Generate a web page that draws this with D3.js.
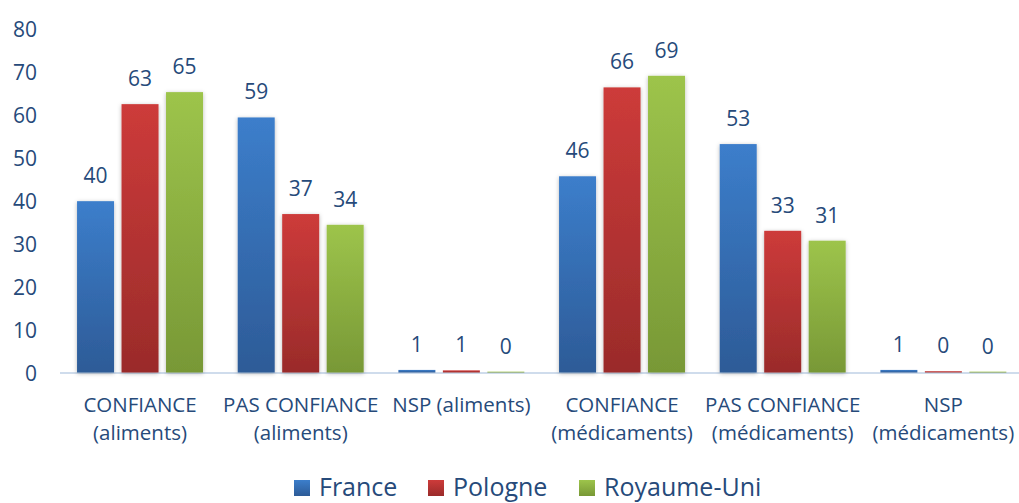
<!DOCTYPE html>
<html><head><meta charset="utf-8">
<script src="https://cdn.jsdelivr.net/npm/d3@7"></script>
<style>
html,body{margin:0;padding:0;background:#fff;}
svg{display:block;}
text{font-family:"Open Sans",sans-serif;fill:#264a7a;}
</style></head><body>
<svg id="chart" width="1019" height="503"></svg>
<script>
const categories = [["CONFIANCE","(aliments)"],["PAS CONFIANCE","(aliments)"],["NSP (aliments)"],["CONFIANCE","(médicaments)"],["PAS CONFIANCE","(médicaments)"],["NSP","(médicaments)"]];
const seriesNames = ["France","Pologne","Royaume-Uni"];
const france = [39.9, 59.4, 0.6, 45.7, 53.2, 0.6];
const pologne = [62.5, 36.9, 0.5, 66.4, 33.0, 0.3];
const royaumeUni = [65.3, 34.4, 0.2, 69.1, 30.7, 0.2];
const yTicks = [0,10,20,30,40,50,60,70,80];
const colorsTop = ["#3c7ecb","#cd3b3a","#9dc44b"];
const colorsBottom = ["#2d5b97","#9a2b2a","#789836"];

const series = [france, pologne, royaumeUni];
const svg = d3.select("#chart");
const defs = svg.append("defs");
colorsTop.forEach((c,i)=>{
  const g = defs.append("linearGradient").attr("id","g"+i).attr("x1",0).attr("y1",0).attr("x2",0).attr("y2",1);
  g.append("stop").attr("offset","0%").attr("stop-color",c);
  g.append("stop").attr("offset","100%").attr("stop-color",colorsBottom[i]);
});
const f = defs.append("filter").attr("id","sh").attr("x","-30%").attr("y","-10%").attr("width","160%").attr("height","120%");
f.append("feDropShadow").attr("dx",0).attr("dy",1).attr("stdDeviation",2.2).attr("flood-color","#000").attr("flood-opacity",0.28);

const y = d3.scaleLinear().domain([0,80]).range([372.5,29]);
const x0 = d3.scaleBand().domain(d3.range(categories.length)).range([59.7,1023.7]).paddingInner(0.216).paddingOuter(0.108);
const x1 = d3.scaleBand().domain(d3.range(3)).range([0,x0.bandwidth()]).paddingInner(0.1685).paddingOuter(0);

// y tick labels
const yAxis = d3.axisLeft(y).tickValues(yTicks).tickSize(0).tickPadding(0);
const ya = svg.append("g").attr("transform","translate(37,0)").call(yAxis);
ya.select(".domain").remove();
ya.selectAll("text").style("font-family","'Open Sans',sans-serif").style("font-size","21px").attr("fill","#264a7a").attr("dy","0.36em");

// baseline
svg.append("line").attr("x1",60).attr("x2",1019).attr("y1",y(0)+0.5).attr("y2",y(0)+0.5).attr("stroke","#cfdcec").attr("stroke-width",2);

// bars
const groups = svg.append("g").selectAll("g").data(categories).join("g")
  .attr("transform",(d,i)=>`translate(${x0(i)},0)`);
groups.each(function(d,ci){
  const g = d3.select(this);
  series.forEach((s,si)=>{
    const v = s[ci];
    g.append("rect").attr("x",x1(si)).attr("width",x1.bandwidth())
      .attr("y",y(v)).attr("height",y(0)-y(v))
      .attr("fill",`url(#g${si})`).attr("filter",v>5?"url(#sh)":null);
    g.append("text").attr("x",x1(si)+x1.bandwidth()/2).attr("y",y(v)-18)
      .attr("text-anchor","middle").style("font-size","21px").text(Math.round(v));
  });
});

// category labels
const xl = svg.append("g");
categories.forEach((lines,i)=>{
  const cx = x0(i)+x0.bandwidth()/2;
  lines.forEach((t,li)=>{
    xl.append("text").attr("x",cx).attr("y",412+li*28).attr("text-anchor","middle")
      .style("font-size","20.5px").text(t);
  });
});

// legend
const legX = [294,428,579];
const leg = svg.append("g");
seriesNames.forEach((n,i)=>{
  leg.append("rect").attr("x",legX[i]).attr("y",480).attr("width",16).attr("height",16).attr("fill",`url(#g${i})`);
  leg.append("text").attr("x",legX[i]+25).attr("y",496).style("font-size","25px").text(n);
});
</script>
</body></html>
